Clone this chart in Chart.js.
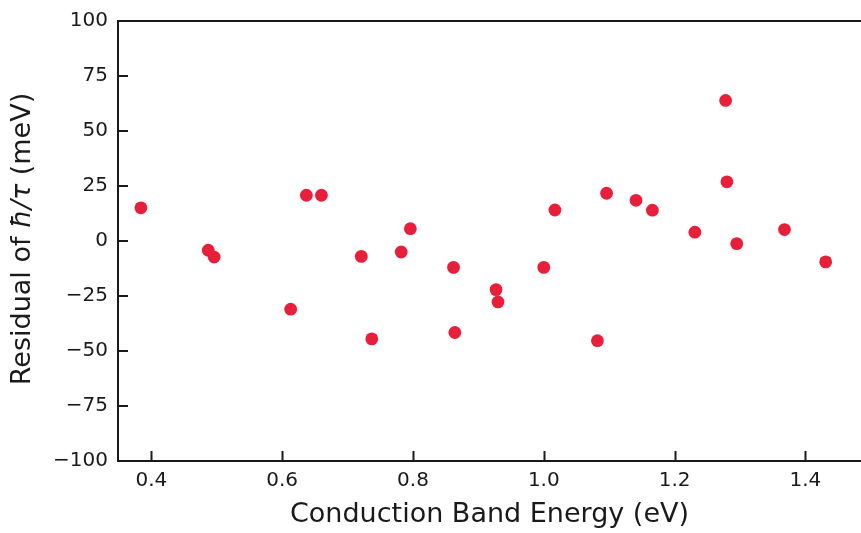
<!DOCTYPE html>
<html>
<head>
<meta charset="utf-8">
<script src="https://cdn.jsdelivr.net/npm/chart.js@4.4.0/dist/chart.umd.min.js"></script>
<style>
  html, body { margin: 0; padding: 0; background: #fff; }
  #wrap { width: 861px; height: 533px; }
</style>
</head>
<body>
<div id="wrap"><canvas id="chart" width="861" height="533"></canvas></div>
<script>
// conduction band energy (eV) vs residual of hbar/tau (meV)
const energy = [0.384, 0.487, 0.496, 0.613, 0.637, 0.660, 0.721, 0.737, 0.782, 0.796,
                0.862, 0.864, 0.927, 0.930, 1.000, 1.017, 1.082, 1.096, 1.141, 1.166,
                1.231, 1.278, 1.280, 1.295, 1.368, 1.431];
const residual = [15.1, -4.2, -7.3, -31.0, 20.8, 20.8, -7.0, -44.5, -5.0, 5.6,
                  -12.0, -41.6, -22.1, -27.7, -12.0, 14.1, -45.3, 21.7, 18.5, 14.0,
                  4.0, 63.9, 26.9, -1.2, 5.2, -9.5];
const xTicks = [0.4, 0.6, 0.8, 1.0, 1.2, 1.4];
const yTicks = [-100, -75, -50, -25, 0, 25, 50, 75, 100];

const FONT = 'DejaVu Sans';
const INK = '#1a1a1a';
const RED = '#e81f3a';

const points = energy.map((e, i) => ({ x: e, y: residual[i] }));

// ticks pointing inward, top spine and the y title with italic symbols
const framePlugin = {
    id: 'frame',
    afterDraw(chart) {
        const ctx = chart.ctx;
        const { left, right, top, bottom } = chart.chartArea;
        const xs = chart.scales.x;
        const ys = chart.scales.y;
        ctx.save();
        ctx.strokeStyle = INK;
        ctx.lineWidth = 2;
        ctx.beginPath();
        ctx.moveTo(left, top);
        ctx.lineTo(right, top);
        xTicks.forEach(v => {
            const px = Math.round(xs.getPixelForValue(v)) + 0.5;
            ctx.moveTo(px, bottom);
            ctx.lineTo(px, bottom - 10);
        });
        yTicks.forEach(v => {
            const py = Math.round(ys.getPixelForValue(v));
            ctx.moveTo(left, py);
            ctx.lineTo(left + 10, py);
        });
        ctx.stroke();

        // y axis title
        const parts = [
            { t: 'Residual of ', f: '27px "' + FONT + '"' },
            { t: '\u0127/\u03C4', f: 'italic 27px "' + FONT + '"' },
            { t: ' (meV)', f: '27px "' + FONT + '"' }
        ];
        let total = 0;
        parts.forEach(p => { ctx.font = p.f; p.w = ctx.measureText(p.t).width; total += p.w; });
        ctx.translate(23, 239);
        ctx.rotate(-Math.PI / 2);
        ctx.fillStyle = INK;
        ctx.textBaseline = 'middle';
        ctx.textAlign = 'left';
        let cx = -total / 2;
        parts.forEach(p => { ctx.font = p.f; ctx.fillText(p.t, cx, 0); cx += p.w; });
        ctx.restore();
    }
};

new Chart(document.getElementById('chart'), {
    type: 'scatter',
    data: {
        datasets: [{
            data: points,
            backgroundColor: RED,
            borderColor: RED,
            borderWidth: 0,
            pointRadius: 6.4,
            pointHoverRadius: 6.4
        }]
    },
    options: {
        responsive: false,
        animation: false,
        layout: { autoPadding: false, padding: { left: 0, right: 0, top: 21, bottom: 0 } },
        plugins: { legend: { display: false }, tooltip: { enabled: false } },
        scales: {
            x: {
                type: 'linear',
                min: 0.349,
                max: 1.485,
                afterBuildTicks: s => { s.ticks = xTicks.map(v => ({ value: v })); },
                afterFit: s => { s.height = 72; s.paddingRight = 0; s.paddingLeft = 0; },
                grid: { display: false, drawTicks: false },
                border: { display: true, color: INK, width: 2 },
                ticks: {
                    color: INK,
                    padding: 8,
                    maxRotation: 0,
                    font: { family: FONT, size: 20 },
                    callback: v => v.toFixed(1)
                },
                title: {
                    display: true,
                    text: 'Conduction Band Energy (eV)',
                    color: INK,
                    font: { family: FONT, size: 27 },
                    padding: { top: 0, bottom: 2 }
                }
            },
            y: {
                type: 'linear',
                min: -100,
                max: 100,
                afterBuildTicks: s => { s.ticks = yTicks.map(v => ({ value: v })); },
                afterFit: s => { s.width = 118; s.paddingTop = 0; s.paddingBottom = 0; },
                grid: { display: false, drawTicks: false },
                border: { display: true, color: INK, width: 2 },
                ticks: {
                    color: INK,
                    padding: 10,
                    font: { family: FONT, size: 20 },
                    callback: v => (v < 0 ? '\u2212' + Math.abs(v) : String(v))
                }
            }
        }
    },
    plugins: [framePlugin]
});
</script>
</body>
</html>
